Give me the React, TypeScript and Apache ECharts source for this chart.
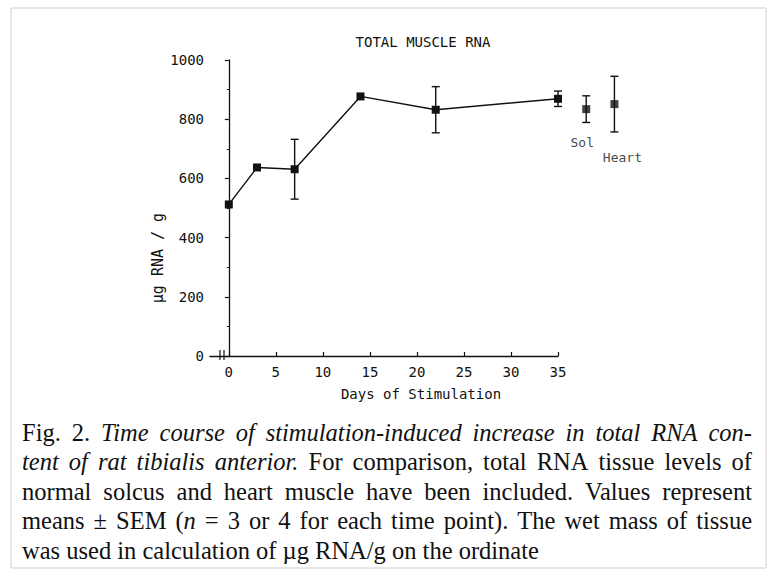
import React, { useEffect, useRef } from "react";
import * as echarts from "echarts";

// Tibialis anterior time course (days of stimulation)
const days = [0, 3, 7, 14, 22, 35];
const rnaMeans = [512, 637, 631, 877, 832, 869];
const rnaSem = [0, 0, 101, 0, 78, 26];

// Reference muscles (drawn to the right of the axis)
const refNames = ["Sol", "Heart"];
const refX = [38, 41];
const refMeans = [834, 851];
const refSem = [45, 94];

const xTicks = [0, 5, 10, 15, 20, 25, 30, 35];
const yTicks = [0, 200, 400, 600, 800, 1000];

const titleText = "TOTAL MUSCLE RNA";
const xName = "Days of Stimulation";
const yName = "µg RNA / g";

type Seg = [string, "r" | "i"];
const captionLines: Seg[][] = [
  [["Fig. 2. ", "r"], ["Time course of stimulation-induced increase in total RNA con-", "i"]],
  [["tent of rat tibialis anterior.", "i"], [" For comparison, total RNA tissue levels of", "r"]],
  [["normal solcus and heart muscle have been included. Values represent", "r"]],
  [["means ± SEM (", "r"], ["n", "i"], [" = 3 or 4 for each time point). The wet mass of tissue", "r"]],
  [["was used in calculation of µg RNA/g on the ordinate", "r"]],
];
const captionJustified = [true, true, true, true, false];

const MONO = "'DejaVu Sans Mono', monospace";
const SERIF = "'Liberation Serif', 'Times New Roman', serif";
const CAP_SIZE = 24.5;

function errorBarItem(params: any, api: any) {
  const x = api.value(0);
  const lo = api.value(1);
  const hi = api.value(2);
  const top = api.coord([x, hi]);
  const bot = api.coord([x, lo]);
  const w = 4;
  const st = { stroke: "#111", lineWidth: 1.4 };
  return {
    type: "group",
    children: [
      { type: "line", shape: { x1: top[0], y1: top[1], x2: bot[0], y2: bot[1] }, style: st },
      { type: "line", shape: { x1: top[0] - w, y1: top[1], x2: top[0] + w, y2: top[1] }, style: st },
      { type: "line", shape: { x1: bot[0] - w, y1: bot[1], x2: bot[0] + w, y2: bot[1] }, style: st },
    ],
  };
}

function buildCaption() {
  const canvas = document.createElement("canvas");
  const ctx = canvas.getContext("2d") as CanvasRenderingContext2D;
  const fontFor = (s: string) => `${s === "i" ? "italic " : ""}${CAP_SIZE}px ${SERIF}`;
  const measure = (t: string, s: string) => {
    ctx.font = fontFor(s);
    return ctx.measureText(t).width;
  };
  const left = 22;
  const right = 752;
  const out: any[] = [];
  captionLines.forEach((segs, li) => {
    const words: { runs: Seg[]; w: number }[] = [];
    let cur: Seg[] = [];
    const flush = () => {
      if (cur.length) {
        const w = cur.reduce((a, r) => a + measure(r[0], r[1]), 0);
        words.push({ runs: cur, w });
      }
      cur = [];
    };
    segs.forEach(([text, style]) => {
      const parts = text.split(" ");
      parts.forEach((p, pi) => {
        if (pi > 0) flush();
        if (p.length) cur.push([p, style]);
      });
    });
    flush();
    const total = words.reduce((a, w) => a + w.w, 0);
    const gap = captionJustified[li] && words.length > 1
      ? (right - left - total) / (words.length - 1)
      : measure(" ", "r");
    let x = left;
    const y = 432 + li * 29.5;
    words.forEach((w) => {
      out.push({
        type: "text",
        x,
        y,
        style: {
          text: w.runs.map((r) => `{${r[1]}|${r[0]}}`).join(""),
          verticalAlign: "middle",
          align: "left",
          rich: {
            r: { fontFamily: SERIF, fontSize: CAP_SIZE, fill: "#111" },
            i: { fontFamily: SERIF, fontSize: CAP_SIZE, fontStyle: "italic", fill: "#111" },
          },
        },
      });
      x += w.w + gap;
    });
  });
  return out;
}

export default function App() {
  const ref = useRef<HTMLDivElement>(null);
  useEffect(() => {
    if (!ref.current) return;
    const chart = echarts.init(ref.current, undefined, { renderer: "svg" });

    const errData: number[][] = [];
    days.forEach((d, i) => {
      if (rnaSem[i] > 0) errData.push([d, rnaMeans[i] - rnaSem[i], rnaMeans[i] + rnaSem[i]]);
    });
    refX.forEach((d, i) => {
      errData.push([d, refMeans[i] - refSem[i], refMeans[i] + refSem[i]]);
    });

    chart.setOption({
      animation: false,
      backgroundColor: "#fff",
      grid: { left: 210, right: 214, top: 60, bottom: 213, containLabel: false },
      xAxis: {
        type: "value",
        min: -2,
        max: 35,
        splitLine: { show: false },
        axisLine: { show: true, lineStyle: { color: "#111", width: 1.3 } },
        axisTick: {
          show: true,
          inside: true,
          length: 4,
          customValues: xTicks,
          lineStyle: { color: "#111", width: 1.2 },
        },
        axisLabel: {
          customValues: xTicks,
          fontFamily: MONO,
          fontSize: 14,
          color: "#111",
          margin: 9,
        },
      },
      yAxis: {
        type: "value",
        min: 0,
        max: 1000,
        interval: 200,
        splitLine: { show: false },
        axisLine: { show: true, lineStyle: { color: "#111", width: 1.3 } },
        axisTick: { show: true, inside: false, length: 4, lineStyle: { color: "#111", width: 1.2 } },
        minorTick: { show: true, splitNumber: 2, length: 2, lineStyle: { color: "#111", width: 1 } },
        axisLabel: {
          fontFamily: MONO,
          fontSize: 14,
          color: "#111",
          margin: 6,
          customValues: yTicks,
          formatter: (v: number) => String(v),
        },
      },
      graphic: [
        {
          type: "rect",
          shape: { x: 11, y: 8, width: 755, height: 560 },
          style: { fill: "none", stroke: "#cfcfcf", lineWidth: 1 },
          silent: true,
        },
        {
          type: "text",
          x: 423,
          y: 42,
          style: { text: titleText, fontFamily: MONO, fontSize: 14, fill: "#111", align: "center", verticalAlign: "middle" },
        },
        {
          type: "text",
          x: 421,
          y: 394,
          style: { text: xName, fontFamily: MONO, fontSize: 14, fill: "#111", align: "center", verticalAlign: "middle" },
        },
        {
          type: "text",
          x: 158,
          y: 258,
          rotation: Math.PI / 2,
          style: { text: yName, fontFamily: MONO, fontSize: 15, fill: "#111", align: "center", verticalAlign: "middle" },
        },
        {
          type: "line",
          shape: { x1: 220, y1: 350, x2: 220, y2: 360 },
          style: { stroke: "#111", lineWidth: 1.2 },
        },
        {
          type: "line",
          shape: { x1: 224, y1: 350, x2: 224, y2: 360 },
          style: { stroke: "#111", lineWidth: 1.2 },
        },
        ...buildCaption(),
      ],
      series: [
        {
          type: "custom",
          renderItem: errorBarItem,
          data: errData,
          clip: false,
          z: 2,
        },
        {
          type: "line",
          data: days.map((d, i) => [d, rnaMeans[i]]),
          symbol: "rect",
          symbolSize: 8,
          showSymbol: true,
          lineStyle: { color: "#111", width: 1.4 },
          itemStyle: { color: "#111" },
          z: 3,
        },
        {
          type: "scatter",
          clip: false,
          data: refX.map((d, i) => ({
            name: refNames[i],
            value: [d, refMeans[i]],
            label: {
              show: true,
              formatter: "{b}",
              position: "bottom",
              distance: i === 0 ? 23 : 43,
              offset: i === 0 ? [-4, 0] : [8, 0],
              fontFamily: MONO,
              fontSize: 13,
              color: "#111",
            },
          })),
          symbol: "rect",
          symbolSize: 8,
          itemStyle: { color: "#111" },
          z: 3,
        },
      ],
    });
    return () => chart.dispose();
  }, []);
  return (
    <div
      ref={ref}
      style={{ position: "absolute", left: 0, top: 0, width: 772, height: 569, background: "#fff" }}
    />
  );
}
